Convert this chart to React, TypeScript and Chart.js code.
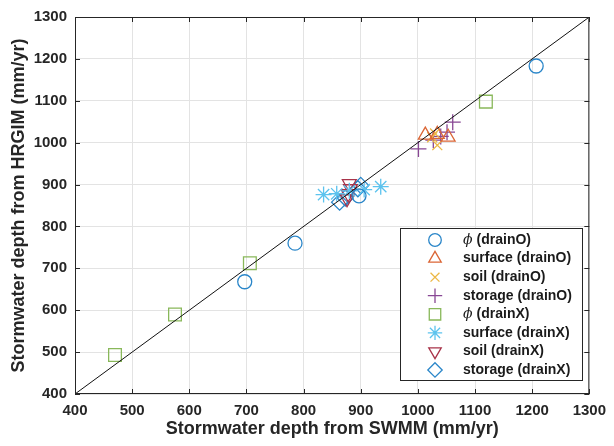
import React, { useEffect, useRef } from "react";
import { Chart, registerables } from "chart.js";

Chart.register(...registerables);

const seriesNames = [
  "surface (drainO)",
  "soil (drainO)",
  "storage (drainO)",
  "surface (drainX)",
  "soil (drainX)",
  "storage (drainX)",
];

const phiO_x = [697, 785, 897, 1207];
const phiO_y = [668, 760, 873, 1183];
const surfO_x = [1013, 1034, 1053];
const surfO_y = [1018, 1020, 1013];
const soilO_x = [1025, 1034, 1030];
const soilO_y = [1013, 994, 1022];
const storO_x = [1001, 1027, 1040, 1051, 1061];
const storO_y = [985, 1006, 1015, 1025, 1049];
const phiX_x = [470, 575, 706, 1119];
const phiX_y = [493, 590, 712, 1098];
const surfX_x = [835, 858, 880, 906, 935];
const surfX_y = [876, 878, 885, 888, 895];
const soilX_x = [880, 882, 878, 876];
const soilX_y = [902, 890, 878, 866];
const storX_x = [863, 873, 895, 900];
const storX_y = [858, 868, 890, 898];
const refLine = [400, 1300];
const axisTicks = [400, 500, 600, 700, 800, 900, 1000, 1100, 1200, 1300];

const COLORS = ["#2a86c9", "#db6636", "#ecb845", "#884794", "#89b85a", "#5cc3ee", "#a83349", "#2a86c9"];

const zip = (xs: number[], ys: number[]) => xs.map((x, i) => ({ x, y: ys[i] }));

function drawMarker(ctx: CanvasRenderingContext2D, style: string, x: number, y: number, r: number, rot: number) {
  ctx.beginPath();
  if (style === "circle") {
    ctx.arc(x, y, r, 0, Math.PI * 2);
  } else if (style === "triangle") {
    const s = rot ? -1 : 1;
    ctx.moveTo(x, y - s * r);
    ctx.lineTo(x + r * 0.866, y + s * r * 0.5);
    ctx.lineTo(x - r * 0.866, y + s * r * 0.5);
    ctx.closePath();
  } else if (style === "crossRot") {
    const d = r * 0.7071;
    ctx.moveTo(x - d, y - d); ctx.lineTo(x + d, y + d);
    ctx.moveTo(x + d, y - d); ctx.lineTo(x - d, y + d);
  } else if (style === "cross") {
    ctx.moveTo(x - r, y); ctx.lineTo(x + r, y);
    ctx.moveTo(x, y - r); ctx.lineTo(x, y + r);
  } else if (style === "rect") {
    const s = r * 0.7071;
    ctx.rect(x - s, y - s, 2 * s, 2 * s);
  } else if (style === "star") {
    const d = r * 0.7071;
    ctx.moveTo(x - r, y); ctx.lineTo(x + r, y);
    ctx.moveTo(x, y - r); ctx.lineTo(x, y + r);
    ctx.moveTo(x - d, y - d); ctx.lineTo(x + d, y + d);
    ctx.moveTo(x + d, y - d); ctx.lineTo(x - d, y + d);
  } else if (style === "rectRot") {
    ctx.moveTo(x, y - r); ctx.lineTo(x + r, y);
    ctx.lineTo(x, y + r); ctx.lineTo(x - r, y);
    ctx.closePath();
  }
  ctx.stroke();
}

const legendItems = [
  { phi: true, label: "(drainO)", style: "circle", r: 7, rot: 0, c: 0 },
  { phi: false, label: seriesNames[0], style: "triangle", r: 8, rot: 0, c: 1 },
  { phi: false, label: seriesNames[1], style: "crossRot", r: 7, rot: 0, c: 2 },
  { phi: false, label: seriesNames[2], style: "cross", r: 8, rot: 0, c: 3 },
  { phi: true, label: "(drainX)", style: "rect", r: 9, rot: 0, c: 4 },
  { phi: false, label: seriesNames[3], style: "star", r: 8, rot: 0, c: 5 },
  { phi: false, label: seriesNames[4], style: "triangle", r: 8, rot: 180, c: 6 },
  { phi: false, label: seriesNames[5], style: "rectRot", r: 8, rot: 0, c: 7 },
];

const frameLegendPlugin = {
  id: "frameLegend",
  afterDraw(chart: any) {
    const ctx = chart.ctx as CanvasRenderingContext2D;
    const a = chart.chartArea;
    ctx.save();
    ctx.strokeStyle = "#262626";
    ctx.lineWidth = 1;
    ctx.strokeRect(a.left + 0.5, a.top + 0.5, a.right - a.left - 1, a.bottom - a.top - 1);
    const xs = chart.scales.x;
    const ys = chart.scales.y;
    ctx.beginPath();
    axisTicks.forEach((t) => {
      const px = Math.round(xs.getPixelForValue(t)) + 0.5;
      ctx.moveTo(px, a.bottom); ctx.lineTo(px, a.bottom - 5);
      ctx.moveTo(px, a.top); ctx.lineTo(px, a.top + 5);
      const py = Math.round(ys.getPixelForValue(t)) + 0.5;
      ctx.moveTo(a.left, py); ctx.lineTo(a.left + 5, py);
      ctx.moveTo(a.right, py); ctx.lineTo(a.right - 5, py);
    });
    ctx.stroke();
    const lx = 400, ly = 228, lw = 182, lh = 152;
    ctx.fillStyle = "#ffffff";
    ctx.fillRect(lx, ly, lw, lh);
    ctx.strokeStyle = "#262626";
    ctx.strokeRect(lx + 0.5, ly + 0.5, lw, lh);
    legendItems.forEach((it, i) => {
      const y = 240 + i * 18.57;
      ctx.strokeStyle = COLORS[it.c];
      ctx.lineWidth = 1.3;
      drawMarker(ctx, it.style, 435, y, it.r * 0.9, it.rot);
      ctx.fillStyle = "#1a1a1a";
      ctx.textBaseline = "middle";
      ctx.textAlign = "left";
      let tx = 463;
      if (it.phi) {
        ctx.font = "italic 14px 'DejaVu Serif', serif";
        ctx.fillText("ϕ", tx, y);
        tx += ctx.measureText("ϕ").width + 4;
      }
      ctx.font = "bold 14px 'Liberation Sans', Arial, sans-serif";
      ctx.fillText(it.label, tx, y);
    });
    ctx.restore();
  },
};

function mk(label: string, xs: number[], ys: number[], style: string, r: number, c: number, rot = 0) {
  return {
    label,
    type: "scatter" as const,
    data: zip(xs, ys),
    pointStyle: style,
    pointRadius: r,
    pointRotation: rot,
    pointBorderWidth: 1.3,
    borderColor: COLORS[c],
    backgroundColor: "rgba(0,0,0,0)",
    pointBackgroundColor: "rgba(0,0,0,0)",
    showLine: false,
  };
}

export default function App() {
  const ref = useRef<HTMLCanvasElement | null>(null);
  useEffect(() => {
    if (!ref.current) return;
    const fontFam = "'Liberation Sans', Arial, sans-serif";
    const chart = new Chart(ref.current, {
      type: "scatter",
      data: {
        datasets: [
          {
            label: "1:1",
            type: "line",
            data: zip(refLine, refLine),
            borderColor: "#111111",
            borderWidth: 1,
            pointRadius: 0,
            fill: false,
          } as any,
          mk("ϕ (drainO)", phiO_x, phiO_y, "circle", 7, 0),
          mk(seriesNames[0], surfO_x, surfO_y, "triangle", 8, 1),
          mk(seriesNames[1], soilO_x, soilO_y, "crossRot", 7, 2),
          mk(seriesNames[2], storO_x, storO_y, "cross", 8, 3),
          mk("ϕ (drainX)", phiX_x, phiX_y, "rect", 9, 4),
          mk(seriesNames[3], surfX_x, surfX_y, "star", 8, 5),
          mk(seriesNames[4], soilX_x, soilX_y, "triangle", 8, 6, 180),
          mk(seriesNames[5], storX_x, storX_y, "rectRot", 8, 7),
        ],
      },
      options: {
        animation: false,
        responsive: false,
        maintainAspectRatio: false,
        layout: { padding: { top: 14, right: 18, left: 0, bottom: 0 } },
        plugins: { legend: { display: false }, tooltip: { enabled: false } },
        scales: {
          x: {
            type: "linear",
            min: 400,
            max: 1300,
            ticks: {
              stepSize: 100,
              padding: 8,
              color: "#262626",
              font: { family: fontFam, size: 15, weight: "bold" },
              callback: (v: any) => String(v),
            },
            grid: { color: "#e3e3e3", drawTicks: false },
            border: { display: false },
            title: {
              display: true,
              text: "Stormwater depth from SWMM (mm/yr)",
              color: "#262626",
              font: { family: fontFam, size: 18, weight: "bold" },
              padding: { top: 4, bottom: 6 },
            },
            afterFit: (s: any) => { s.height = 52; },
          },
          y: {
            type: "linear",
            min: 400,
            max: 1300,
            ticks: {
              stepSize: 100,
              padding: 8,
              color: "#262626",
              font: { family: fontFam, size: 15, weight: "bold" },
              callback: (v: any) => String(v),
            },
            grid: { color: "#e3e3e3", drawTicks: false },
            border: { display: false },
            title: {
              display: true,
              text: "Stormwater depth from HRGIM (mm/yr)",
              color: "#262626",
              font: { family: fontFam, size: 18, weight: "bold" },
              padding: { top: 8, bottom: 0 },
            },
            afterFit: (s: any) => { s.width = 75; },
          },
        },
      } as any,
      plugins: [frameLegendPlugin],
    });
    return () => chart.destroy();
  }, []);
  return (
    <div style={{ position: "fixed", left: 0, top: 0, width: 614, height: 446, background: "#fff" }}>
      <canvas ref={ref} width={614} height={446} style={{ width: 614, height: 446, display: "block" }} />
    </div>
  );
}
